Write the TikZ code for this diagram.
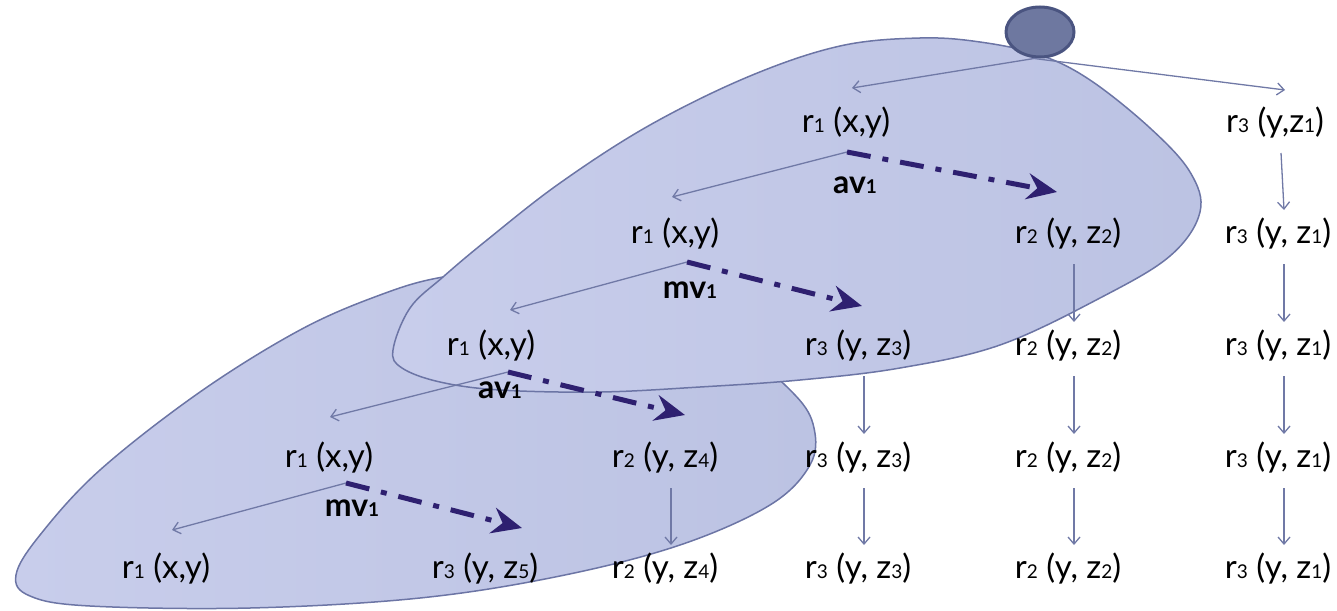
\documentclass[tikz,border=0pt]{standalone}
\usepackage{fontspec}
\setmainfont{Lato}
\usepackage{tikz}
\usetikzlibrary{arrows.meta,calc,shapes.geometric}
\definecolor{blobleft}{RGB}{200,205,235}
\definecolor{blobright}{RGB}{188,195,227}
\definecolor{blobline}{RGB}{108,117,165}
\definecolor{edgecol}{RGB}{112,121,166}
\definecolor{opcol}{RGB}{46,32,112}
\definecolor{rootfill}{RGB}{110,120,160}
\definecolor{rootline}{RGB}{74,84,128}
\newcommand{\sub}[1]{{\fontsize{19}{19}\selectfont #1}}

\begin{document}
\begin{tikzpicture}[x=1pt, y=-1pt, font=\fontsize{33}{36}\selectfont,
  rel/.style={inner sep=0pt, text height=26pt, text depth=6pt},
  lbl/.style={inner sep=0pt, font=\fontsize{32}{36}\selectfont\bfseries},
  blob/.style={draw=blobline, line width=1.5pt, left color=blobleft, right color=blobright},
  edge/.style={draw=edgecol, line width=1.3pt, -{Straight Barb[length=7pt,width=12pt]}},
  op/.style={draw=opcol, line width=5pt, dash pattern=on 24pt off 12pt on 6pt off 12pt,
    -{Stealth[length=30pt,width=26pt,inset=10pt]}},
  root/.style={ellipse, draw=rootline, fill=rootfill, line width=3pt, minimum width=68pt, minimum height=50pt}]
\useasboundingbox (0,0) rectangle (1337,610);
\path[blob] plot[smooth cycle, tension=0.6] coordinates {
  (443,277) (380,295) (300,330) (200,392) (100,470) (40,535) (16,575) (30,596) (90,606)
  (250,608) (420,598) (560,576) (680,545) (770,505) (810,465) (814,428) (795,395) (740,350)
  (640,295) (530,268)};
\path[blob] plot[smooth cycle, tension=0.6] coordinates {
  (393,350) (402,368) (440,382) (500,390) (600,392) (700,387) (800,380) (900,368) (1000,345)
  (1100,298) (1170,256) (1200,212) (1190,172) (1150,128) (1090,80) (1040,55) (980,42)
  (920,38) (840,46) (750,76) (650,125) (560,183) (487,240) (443,277) (410,308)};
\node[root] (root) at (1040,32) {};
\node[rel] (a1) at (846,122) {r\sub{1} (x,y)};
\node[rel] (e1) at (1275,122) {r\sub{3} (y,z\sub{1})};
\node[rel] (a2) at (675,233) {r\sub{1} (x,y)};
\node[rel] (d2) at (1068,233) {r\sub{2} (y, z\sub{2})};
\node[rel] (e2) at (1278,233) {r\sub{3} (y, z\sub{1})};
\node[rel] (a3) at (491,345) {r\sub{1} (x,y)};
\node[rel] (c3) at (858,345) {r\sub{3} (y, z\sub{3})};
\node[rel] (d3) at (1068,345) {r\sub{2} (y, z\sub{2})};
\node[rel] (e3) at (1278,345) {r\sub{3} (y, z\sub{1})};
\node[rel] (a4) at (329,457) {r\sub{1} (x,y)};
\node[rel] (b4) at (665,457) {r\sub{2} (y, z\sub{4})};
\node[rel] (c4) at (858,457) {r\sub{3} (y, z\sub{3})};
\node[rel] (d4) at (1068,457) {r\sub{2} (y, z\sub{2})};
\node[rel] (e4) at (1278,457) {r\sub{3} (y, z\sub{1})};
\node[rel] (a5) at (166,568) {r\sub{1} (x,y)};
\node[rel] (x5) at (485,568) {r\sub{3} (y, z\sub{5})};
\node[rel] (b5) at (665,568) {r\sub{2} (y, z\sub{4})};
\node[rel] (c5) at (858,568) {r\sub{3} (y, z\sub{3})};
\node[rel] (d5) at (1068,568) {r\sub{2} (y, z\sub{2})};
\node[rel] (e5) at (1278,568) {r\sub{3} (y, z\sub{1})};
\draw[edge] ([xshift=-6pt]root.south) -- ($(a1)+(6,-34)$);
\draw[edge] ([xshift=-6pt]root.south) -- ($(e1)+(10,-32)$);
\foreach \u/\v in {e1/e2,e2/e3,e3/e4,e4/e5,d2/d3,d3/d4,d4/d5,c3/c4,c4/c5,b4/b5}
  \draw[edge] ($(\u)+(6,31)$) -- ($(\v)+(6,-23)$);
\draw[edge] ($(a1)+(1,30)$) -- ($(a2)+(-3,-36)$);
\draw[op] ($(a1)+(1,30)$) -- ($(d2)+(-11,-41)$);
\node[lbl] (av1) at (855,185) {av\sub{1}};
\draw[edge] ($(a2)+(12,29)$) -- ($(a3)+(19,-35)$);
\draw[op] ($(a2)+(12,29)$) -- ($(c3)+(4,-39)$);
\node[lbl] (mv1) at (690,290) {mv\sub{1}};
\draw[edge] ($(a3)+(17,27)$) -- ($(a4)+(1,-40)$);
\draw[op] ($(a3)+(17,27)$) -- ($(b4)+(20,-42)$);
\node[lbl] (av2) at (500,390) {av\sub{1}};
\draw[edge] ($(a4)+(17,26)$) -- ($(a5)+(6,-38)$);
\draw[op] ($(a4)+(17,26)$) -- ($(x5)+(37,-40)$);
\node[lbl] (mv2) at (352,508) {mv\sub{1}};
\end{tikzpicture}
\end{document}
